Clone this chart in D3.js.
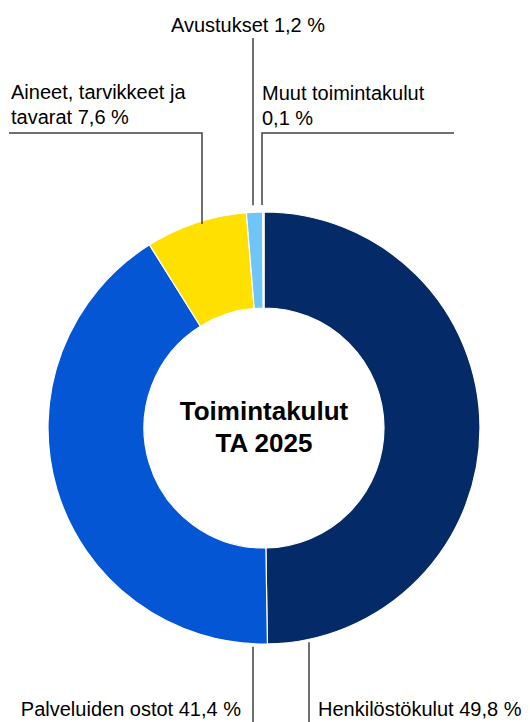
<!DOCTYPE html>
<html>
<head>
<meta charset="utf-8">
<script src="https://cdn.jsdelivr.net/npm/d3@7"></script>
<style>
  html, body { margin: 0; padding: 0; background: #fff; }
  svg { display: block; font-family: "Liberation Sans", Arial, sans-serif; }
</style>
</head>
<body>
<script>
// data
var categories = ["Henkilöstökulut", "Palveluiden ostot", "Aineet, tarvikkeet ja tavarat", "Avustukset", "Muut toimintakulut"];
var shares = [49.8, 41.4, 7.6, 1.2, 0.1];
var labelLines = [
  ["Henkilöstökulut 49,8 %"],
  ["Palveluiden ostot 41,4 %"],
  ["Aineet, tarvikkeet ja", "tavarat 7,6 %"],
  ["Avustukset 1,2 %"],
  ["Muut toimintakulut", "0,1 %"]
];
var colors = ["#042b67", "#0556d5", "#ffe000", "#6fc5f8", "#a9d6d8"];
var title = ["Toimintakulut", "TA 2025"];

var width = 530, height = 722;
var cx = 264, cy = 428, rOuter = 216, rInner = 120;

var svg = d3.select("body").append("svg")
    .attr("width", width)
    .attr("height", height);

var pie = d3.pie().sort(null).value(function(d) { return d; });
var arc = d3.arc().innerRadius(rInner).outerRadius(rOuter);
var arcs = pie(shares);

var g = svg.append("g").attr("transform", "translate(" + cx + "," + cy + ")");

g.selectAll("path")
  .data(arcs)
  .enter()
    .append("path")
    .attr("d", arc)
    .attr("fill", function(d, i) { return colors[i]; })
    .attr("stroke", "#fff")
    .attr("stroke-width", 1.2);

// title in the hole
g.append("text")
  .attr("text-anchor", "middle")
  .attr("font-weight", "bold")
  .attr("font-size", 26)
  .selectAll("tspan")
  .data(title)
  .enter()
    .append("tspan")
    .attr("x", 0)
    .attr("y", function(d, i) { return -8 + i * 32; })
    .text(function(d) { return d; });

// leader lines and labels, hand placed like in the original
// lx: x of the vertical leader, side: up/down, elbow: y of the horizontal part
var layout = [
  { lx: 309, side: 1, gap: 3, end: height, tx: 318, ty: 716, anchor: "start" },
  { lx: 253, side: 1, gap: 3, end: height, tx: 241, ty: 716, anchor: "end" },
  { lx: 202, side: -1, gap: -3, elbow: 133, hx: 9, tx: 11, ty: 99, anchor: "start" },
  { lx: 253, side: -1, gap: 7, end: 38, tx: 248, ty: 32, anchor: "middle" },
  { lx: 262, side: -1, gap: 7, elbow: 133, hx: 454, tx: 262, ty: 100, anchor: "start" }
];

function edgeY(l) {
  var dx = l.lx - cx;
  return cy + l.side * (Math.sqrt(rOuter * rOuter - dx * dx) + l.gap);
}

svg.selectAll("path.leader")
  .data(layout)
  .enter()
    .append("path")
    .attr("class", "leader")
    .attr("fill", "none")
    .attr("stroke", "#404040")
    .attr("stroke-width", 1.5)
    .attr("d", function(l) {
      var p = d3.path();
      p.moveTo(l.lx, edgeY(l));
      if (l.elbow != null) {
        p.lineTo(l.lx, l.elbow);
        p.lineTo(l.hx, l.elbow);
      } else {
        p.lineTo(l.lx, l.end);
      }
      return p.toString();
    });

var labels = svg.selectAll("text.label")
  .data(layout)
  .enter()
    .append("text")
    .attr("class", "label")
    .attr("font-size", 20)
    .attr("fill", "#000")
    .attr("text-anchor", function(l) { return l.anchor; });

labels.selectAll("tspan")
  .data(function(l, i) { return labelLines[i].map(function(s) { return { s: s, l: l }; }); })
  .enter()
    .append("tspan")
    .attr("x", function(d) { return d.l.tx; })
    .attr("y", function(d, j) { return d.l.ty + j * 25; })
    .text(function(d) { return d.s; });
</script>
</body>
</html>
